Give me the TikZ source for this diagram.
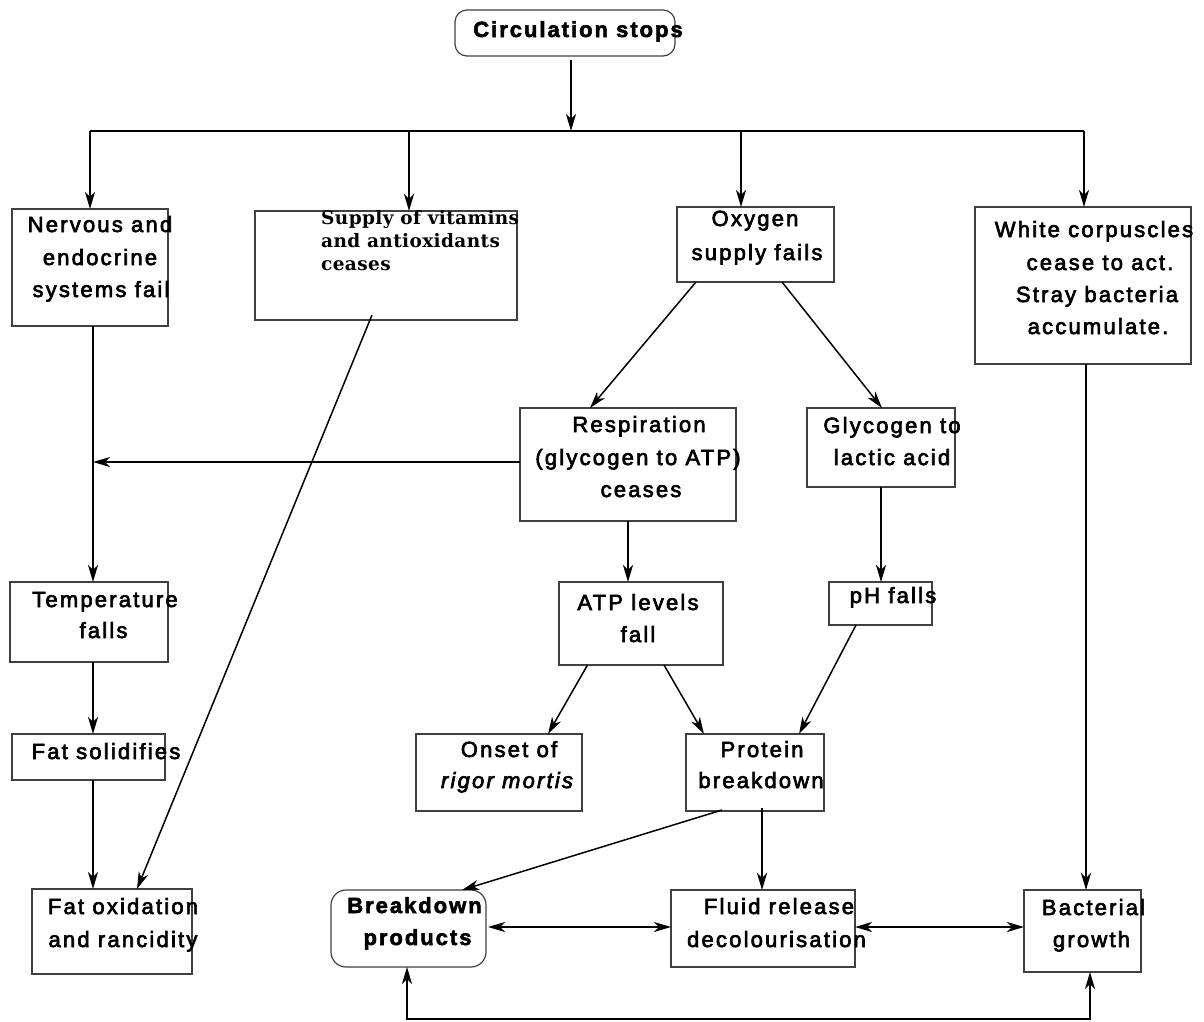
\documentclass[tikz,border=0pt]{standalone}
\usepackage{fontspec}
\usetikzlibrary{arrows.meta}
\newfontfamily\mainf{Liberation Sans}[LetterSpace=10,FakeBold=3]
\newfontfamily\boldf{Liberation Sans}[LetterSpace=9,FakeBold=2.5]
\newfontfamily\seriff{DejaVu Serif}[LetterSpace=2]
\tikzset{
  box/.style={draw=black!75, line width=1.2pt, inner sep=0pt, outer sep=0pt},
  txt/.style={anchor=base, inner sep=0pt, font=\mainf\fontsize{22}{26}\selectfont},
  btxt/.style={anchor=base, inner sep=0pt, font=\boldf\bfseries\fontsize{22}{26}\selectfont},
  stxt/.style={anchor=base west, inner sep=0pt, font=\seriff\bfseries\fontsize{18.5}{23}\selectfont},
  tip/.tip={Stealth[length=17pt,width=10pt,inset=5pt]},
  arr/.style={line width=1.8pt, -tip},
  darr/.style={line width=1.5pt, -tip},
  barr/.style={line width=1.8pt, tip-tip},
  plain/.style={line width=1.8pt}
}
\begin{document}
\begin{tikzpicture}[x=1pt,y=-1pt]
\useasboundingbox (0,0) rectangle (1204,1021);
% boxes
\node[box, rounded corners=12pt, minimum width=220pt, minimum height=46pt] (circ) at (565,33) {};
\node[box, minimum width=156pt, minimum height=117pt] (nerv) at (90,267.5) {};
\node[box, minimum width=262pt, minimum height=109pt] (supp) at (386,265.5) {};
\node[box, minimum width=157pt, minimum height=75pt] (oxy) at (755.5,244.5) {};
\node[box, minimum width=216pt, minimum height=157pt] (white) at (1083,285.5) {};
\node[box, minimum width=216pt, minimum height=113pt] (resp) at (628,464.5) {};
\node[box, minimum width=148pt, minimum height=79pt] (glyc) at (881,447.5) {};
\node[box, minimum width=158pt, minimum height=80pt] (temp) at (89,622) {};
\node[box, minimum width=153pt, minimum height=46pt] (fats) at (88.5,757) {};
\node[box, minimum width=160pt, minimum height=85pt] (fato) at (112,931.5) {};
\node[box, minimum width=164pt, minimum height=83pt] (atp) at (641,623.5) {};
\node[box, minimum width=103pt, minimum height=43pt] (ph) at (880.5,603.5) {};
\node[box, minimum width=166pt, minimum height=77pt] (onset) at (499,772.5) {};
\node[box, minimum width=138pt, minimum height=77pt] (prot) at (755,772.5) {};
\node[box, rounded corners=15pt, minimum width=155pt, minimum height=77pt] (brk) at (408.5,928.5) {};
\node[box, minimum width=184pt, minimum height=77pt] (fluid) at (763,928.5) {};
\node[box, minimum width=117pt, minimum height=82pt] (bact) at (1082.5,931) {};
% texts
\node[btxt] (circT) at (578,37) {Circulation stops};
\node[txt] (nervA) at (100,232) {Nervous and};
\node[txt] (nervB) at (100,265) {endocrine};
\node[txt] (nervC) at (101,297) {systems fail};
\node[stxt] (suppA) at (321,224) {Supply of vitamins};
\node[stxt] (suppB) at (321,247) {and antioxidants};
\node[stxt] (suppC) at (321,270) {ceases};
\node[txt] (oxyA) at (755,226) {Oxygen};
\node[txt] (oxyB) at (757,260) {supply fails};
\node[txt] (whiteA) at (1094,237) {White corpuscles};
\node[txt] (whiteB) at (1100,270) {cease to act.};
\node[txt] (whiteC) at (1097,302) {Stray bacteria};
\node[txt] (whiteD) at (1098,334) {accumulate.};
\node[txt] (respA) at (639,432) {Respiration};
\node[txt] (respB) at (638,465) {(glycogen to ATP)};
\node[txt] (respC) at (641,497) {ceases};
\node[txt] (glycA) at (892,433) {Glycogen to};
\node[txt] (glycB) at (892,465) {lactic acid};
\node[txt] (tempA) at (105,607) {Temperature};
\node[txt] (tempB) at (103.5,638) {falls};
\node[txt] (fatsA) at (106,759) {Fat solidifies};
\node[txt] (fatoA) at (123,914) {Fat oxidation};
\node[txt] (fatoB) at (123,947) {and rancidity};
\node[txt] (atpA) at (638,610) {ATP levels};
\node[txt] (atpB) at (638,642) {fall};
\node[txt] (phA) at (893,603) {pH falls};
\node[txt] (onsetA) at (509,757) {Onset of};
\node[txt] (onsetB) at (507,788) {\itshape rigor mortis};
\node[txt] (protA) at (762,757) {Protein};
\node[txt] (protB) at (761,788) {breakdown};
\node[btxt] (brkA) at (414.5,913) {Breakdown};
\node[btxt] (brkB) at (417.5,945) {products};
\node[txt] (fluidA) at (779,914) {Fluid release};
\node[txt] (fluidB) at (776.5,947) {decolourisation};
\node[txt] (bactA) at (1093.5,915) {Bacterial};
\node[txt] (bactB) at (1091.5,947) {growth};
% coordinates
\coordinate (busC) at (571,131);
\coordinate (busL) at (90,131);
\coordinate (bus2) at (409,131);
\coordinate (bus3) at (741,131);
\coordinate (busR) at (1084,131);
\coordinate (colL) at (93,462);
\coordinate (colP) at (762,808);
\coordinate (midrow) at (0,927);
\coordinate (loopL) at (407,1019);
\coordinate (loopR) at (1090,1019);
% connectors
\draw[arr] ([xshift=6pt,yshift=-4pt]circ.south) -- (busC);
\draw[plain] (busL) -- (busR);
\draw[arr] (busL) -- (busL |- nerv.north);
\draw[arr] (bus2) -- (bus2 |- supp.north);
\draw[arr] (bus3) -- (bus3 |- oxy.north);
\draw[arr] (busR) -- (busR |- white.north);
\draw[arr] (colL |- nerv.south) -- (colL |- temp.north);
\draw[arr] (resp.west |- colL) -- (colL);
\draw[arr] (colL |- temp.south) -- (colL |- fats.north);
\draw[arr] (colL |- fats.south) -- (colL |- fato.north);
\draw[darr] ([xshift=-14pt,yshift=5pt]supp.south) -- ([xshift=25pt]fato.north);
\draw[darr] ([xshift=-59.5pt]oxy.south) -- ([xshift=-38pt]resp.north);
\draw[darr] ([xshift=26.5pt]oxy.south) -- ([xshift=1pt]glyc.north);
\draw[arr] (resp.south) -- (resp.south |- atp.north);
\draw[arr] (glyc.south) -- (glyc.south |- ph.north);
\draw[darr] ([xshift=-53.5pt]atp.south) -- ([xshift=49pt]onset.north);
\draw[darr] ([xshift=23pt]atp.south) -- ([xshift=-51pt]prot.north);
\draw[darr] ([xshift=-24.5pt]ph.south) -- ([xshift=44pt]prot.north);
\draw[darr] ([xshift=-33pt,yshift=1pt]prot.south) -- ([xshift=53.5pt]brk.north);
\draw[arr] (colP) -- (colP |- fluid.north);
\draw[arr] ([xshift=3pt]white.south) -- ([xshift=3.5pt]bact.north);
\draw[barr] ([xshift=2pt]brk.east |- midrow) -- (fluid.west |- midrow);
\draw[barr] (fluid.east |- midrow) -- (bact.west |- midrow);
\draw[barr] (loopL |- brk.south) -- (loopL) -- (loopR) -- (loopR |- bact.south);
\end{tikzpicture}
\end{document}
